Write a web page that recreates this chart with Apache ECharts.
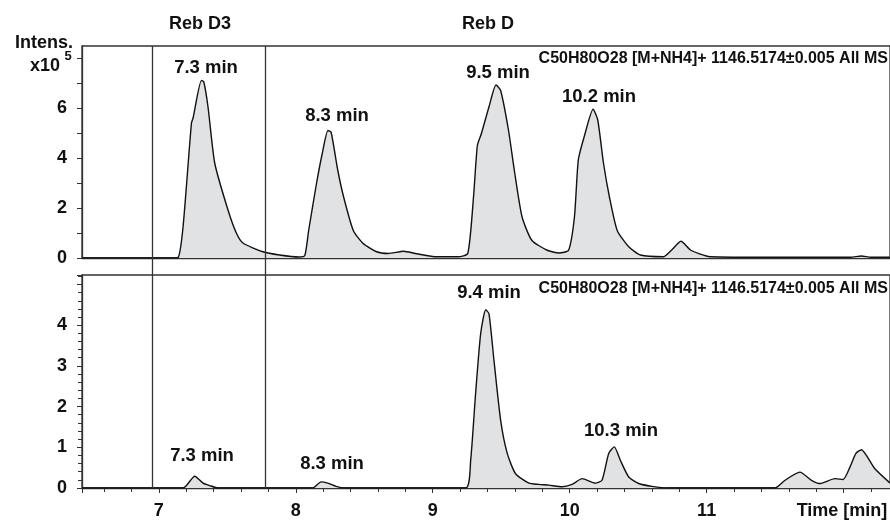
<!DOCTYPE html>
<html>
<head>
<meta charset="utf-8">
<script src="https://cdn.jsdelivr.net/npm/echarts@6/dist/echarts.min.js"></script>
<style>
  html, body { margin: 0; padding: 0; background: #fff; }
  #chart { width: 890px; height: 522px; }
</style>
</head>
<body>
<div id="chart"></div>
<script>
// EIC traces, time in min, intensity x10^5
var topTime = [6.44, 7.10, 7.141, 7.177, 7.238, 7.250, 7.311, 7.328, 7.359, 7.408, 7.505, 7.566, 7.614, 7.760, 7.881,
    8.023, 8.066, 8.094, 8.151, 8.193, 8.235, 8.258, 8.307, 8.349, 8.420, 8.490, 8.590, 8.674, 8.788, 8.873, 9.015, 9.185,
    9.256, 9.298, 9.326, 9.355, 9.411, 9.462, 9.496, 9.553, 9.596, 9.652, 9.723, 9.836, 9.921, 9.992,
    10.035, 10.063, 10.106, 10.171, 10.205, 10.247, 10.290, 10.347, 10.431, 10.517, 10.686, 10.743, 10.813, 10.884,
    11.026, 11.5, 12.05, 12.13, 12.2, 12.34]
var topIntens = [0, 0, 0.02, 1.25, 5.39, 5.6, 7.1, 7.05, 6.05, 3.8, 1.92, 1.0, 0.6, 0.25, 0.12,
    0.04, 0.1, 1.1, 2.97, 4.17, 5.1, 5.03, 3.5, 2.45, 1.1, 0.59, 0.25, 0.18, 0.27, 0.18, 0.05, 0.05,
    0.18, 2.45, 4.5, 4.97, 6.05, 6.92, 6.7, 5.12, 3.5, 1.65, 0.71, 0.31, 0.2, 0.31,
    1.65, 3.92, 4.85, 5.95, 5.52, 3.79, 2.45, 1.1, 0.45, 0.12, 0.05, 0.31, 0.67, 0.31,
    0.05, 0.03, 0.03, 0.08, 0.03, 0.03]

var botTime = [6.44, 7.177, 7.262, 7.323, 7.371, 7.432, 8.124, 8.185, 8.233, 8.294, 8.355,
    9.240, 9.277, 9.313, 9.350, 9.387, 9.411, 9.447, 9.496, 9.544, 9.605, 9.702, 9.775, 9.848, 9.945,
    10.018, 10.091, 10.187, 10.236, 10.285, 10.326, 10.370, 10.431, 10.504, 10.601, 10.722,
    11.499, 11.572, 11.681, 11.766, 11.83, 11.936, 11.996, 12.045, 12.09, 12.13, 12.227, 12.34]
var botIntens = [0, 0, 0.29, 0.12, 0.06, 0, 0, 0.15, 0.12, 0.04, 0,
    0, 0.68, 2.32, 3.79, 4.38, 4.28, 3.14, 1.66, 0.85, 0.35, 0.12, 0.09, 0.07, 0.03,
    0.09, 0.23, 0.12, 0.19, 0.85, 1.01, 0.68, 0.27, 0.11, 0.04, 0,
    0, 0.19, 0.39, 0.19, 0.11, 0.23, 0.21, 0.5, 0.85, 0.94, 0.48, 0.12]

var xTickLabels = [7, 8, 9, 10, 11]
var topTickLabels = [0, 2, 4, 6]
var botTickLabels = [0, 1, 2, 3, 4]
var boxEdges = [6.951, 7.779]   // Reb D3 window
var xMin = 6.439
var xMax = 12.339

var FONT = 'Liberation Sans, Arial, sans-serif'
var AXIS_COLOR = '#333'

function pairs (xs, ys) {
    return xs.map(function (x, i) { return [x, ys[i]] })
}

function text (str, x, y, size, align) {
    return {
        type: 'text',
        silent: true,
        style: {
            text: str,
            x: x,
            y: y,
            fill: '#111',
            font: 'bold ' + size + 'px ' + FONT,
            textAlign: align || 'center',
            textVerticalAlign: 'middle'
        }
    }
}

var traceStyle = {
    type: 'line',
    showSymbol: false,
    symbol: 'none',
    silent: true,
    smooth: 0.2,
    lineStyle: { color: '#111', width: 1.4 },
    areaStyle: { color: '#e1e2e4', opacity: 1 }
}

var myChart = echarts.init(document.getElementById('chart'))
myChart.setOption({
    animation: false,
    backgroundColor: '#fff',
    grid: [
        { left: 82, right: -2, top: 46, height: 212, show: true, borderColor: AXIS_COLOR, borderWidth: 1.3 },
        { left: 82, right: -2, top: 275, height: 213, show: true, borderColor: AXIS_COLOR, borderWidth: 1.3 },
        { left: 82, right: -2, top: 46, height: 442 }
    ],
    xAxis: [
        {
            type: 'value', gridIndex: 0, min: xMin, max: xMax,
            axisLine: { lineStyle: { color: AXIS_COLOR, width: 1.3 } },
            axisTick: { show: false },
            axisLabel: { show: false },
            splitLine: { show: false }
        },
        {
            type: 'value', gridIndex: 1, min: xMin, max: xMax, splitNumber: 6,
            axisLine: { lineStyle: { color: AXIS_COLOR, width: 1.3 } },
            axisTick: { show: true, length: 5, lineStyle: { color: AXIS_COLOR } },
            minorTick: { show: true, splitNumber: 5, length: 4, lineStyle: { color: AXIS_COLOR } },
            axisLabel: {
                showMinLabel: false,
                showMaxLabel: false,
                margin: 14,
                color: '#111',
                fontSize: 18,
                fontWeight: 'bold',
                fontFamily: FONT,
                formatter: function (v) {
                    return xTickLabels.indexOf(v) >= 0 ? String(v) : ''
                }
            },
            splitLine: { show: false }
        },
        { type: 'value', gridIndex: 2, min: xMin, max: xMax, show: false }
    ],
    yAxis: [
        {
            type: 'value', gridIndex: 0, min: 0, max: 8.48, interval: 1,
            axisLine: { show: true, lineStyle: { color: AXIS_COLOR, width: 1.3 } },
            axisTick: { show: true, length: 5, lineStyle: { color: AXIS_COLOR } },
            axisLabel: {
                showMaxLabel: false,
                margin: 15,
                color: '#111',
                fontSize: 18,
                fontWeight: 'bold',
                fontFamily: FONT,
                formatter: function (v) {
                    return topTickLabels.indexOf(v) >= 0 ? String(v) : ''
                }
            },
            splitLine: { show: false }
        },
        {
            type: 'value', gridIndex: 1, min: 0, max: 5.233, interval: 1,
            axisLine: { show: true, lineStyle: { color: AXIS_COLOR, width: 1.3 } },
            axisTick: { show: true, length: 5, lineStyle: { color: AXIS_COLOR } },
            minorTick: { show: true, splitNumber: 5, length: 4, lineStyle: { color: AXIS_COLOR } },
            axisLabel: {
                showMaxLabel: false,
                margin: 15,
                color: '#111',
                fontSize: 18,
                fontWeight: 'bold',
                fontFamily: FONT,
                formatter: function (v) {
                    return botTickLabels.indexOf(v) >= 0 ? String(v) : ''
                }
            },
            splitLine: { show: false }
        },
        { type: 'value', gridIndex: 2, min: 0, max: 1, show: false }
    ],
    series: [
        Object.assign({ xAxisIndex: 0, yAxisIndex: 0, data: pairs(topTime, topIntens) }, traceStyle),
        Object.assign({ xAxisIndex: 1, yAxisIndex: 1, data: pairs(botTime, botIntens) }, traceStyle),
        {
            type: 'line',
            xAxisIndex: 2,
            yAxisIndex: 2,
            data: [],
            silent: true,
            markLine: {
                silent: true,
                symbol: 'none',
                label: { show: false },
                lineStyle: { color: AXIS_COLOR, width: 1.3, type: 'solid' },
                data: boxEdges.map(function (v) { return { xAxis: v } })
            }
        }
    ],
    graphic: [
        text('Reb D3', 200, 24, 18),
        text('Reb D', 488, 24, 18),
        text('Intens.', 73, 43, 18, 'right'),
        text('x10', 60, 66, 18, 'right'),
        text('5', 68, 56, 13),
        text('C50H80O28 [M+NH4]+ 1146.5174\u00b10.005 All MS', 888, 59, 16, 'right'),
        text('C50H80O28 [M+NH4]+ 1146.5174\u00b10.005 All MS', 888, 289, 16, 'right'),
        text('7.3 min', 206, 68, 18.5),
        text('8.3 min', 337, 116, 18.5),
        text('9.5 min', 498, 73, 18.5),
        text('10.2 min', 599, 97, 18.5),
        text('9.4 min', 489, 293, 18.5),
        text('10.3 min', 621, 431, 18.5),
        text('7.3 min', 202, 456, 18.5),
        text('8.3 min', 332, 464, 18.5),
        text('Time [min]', 842, 511, 18)
    ]
})
</script>
</body>
</html>
